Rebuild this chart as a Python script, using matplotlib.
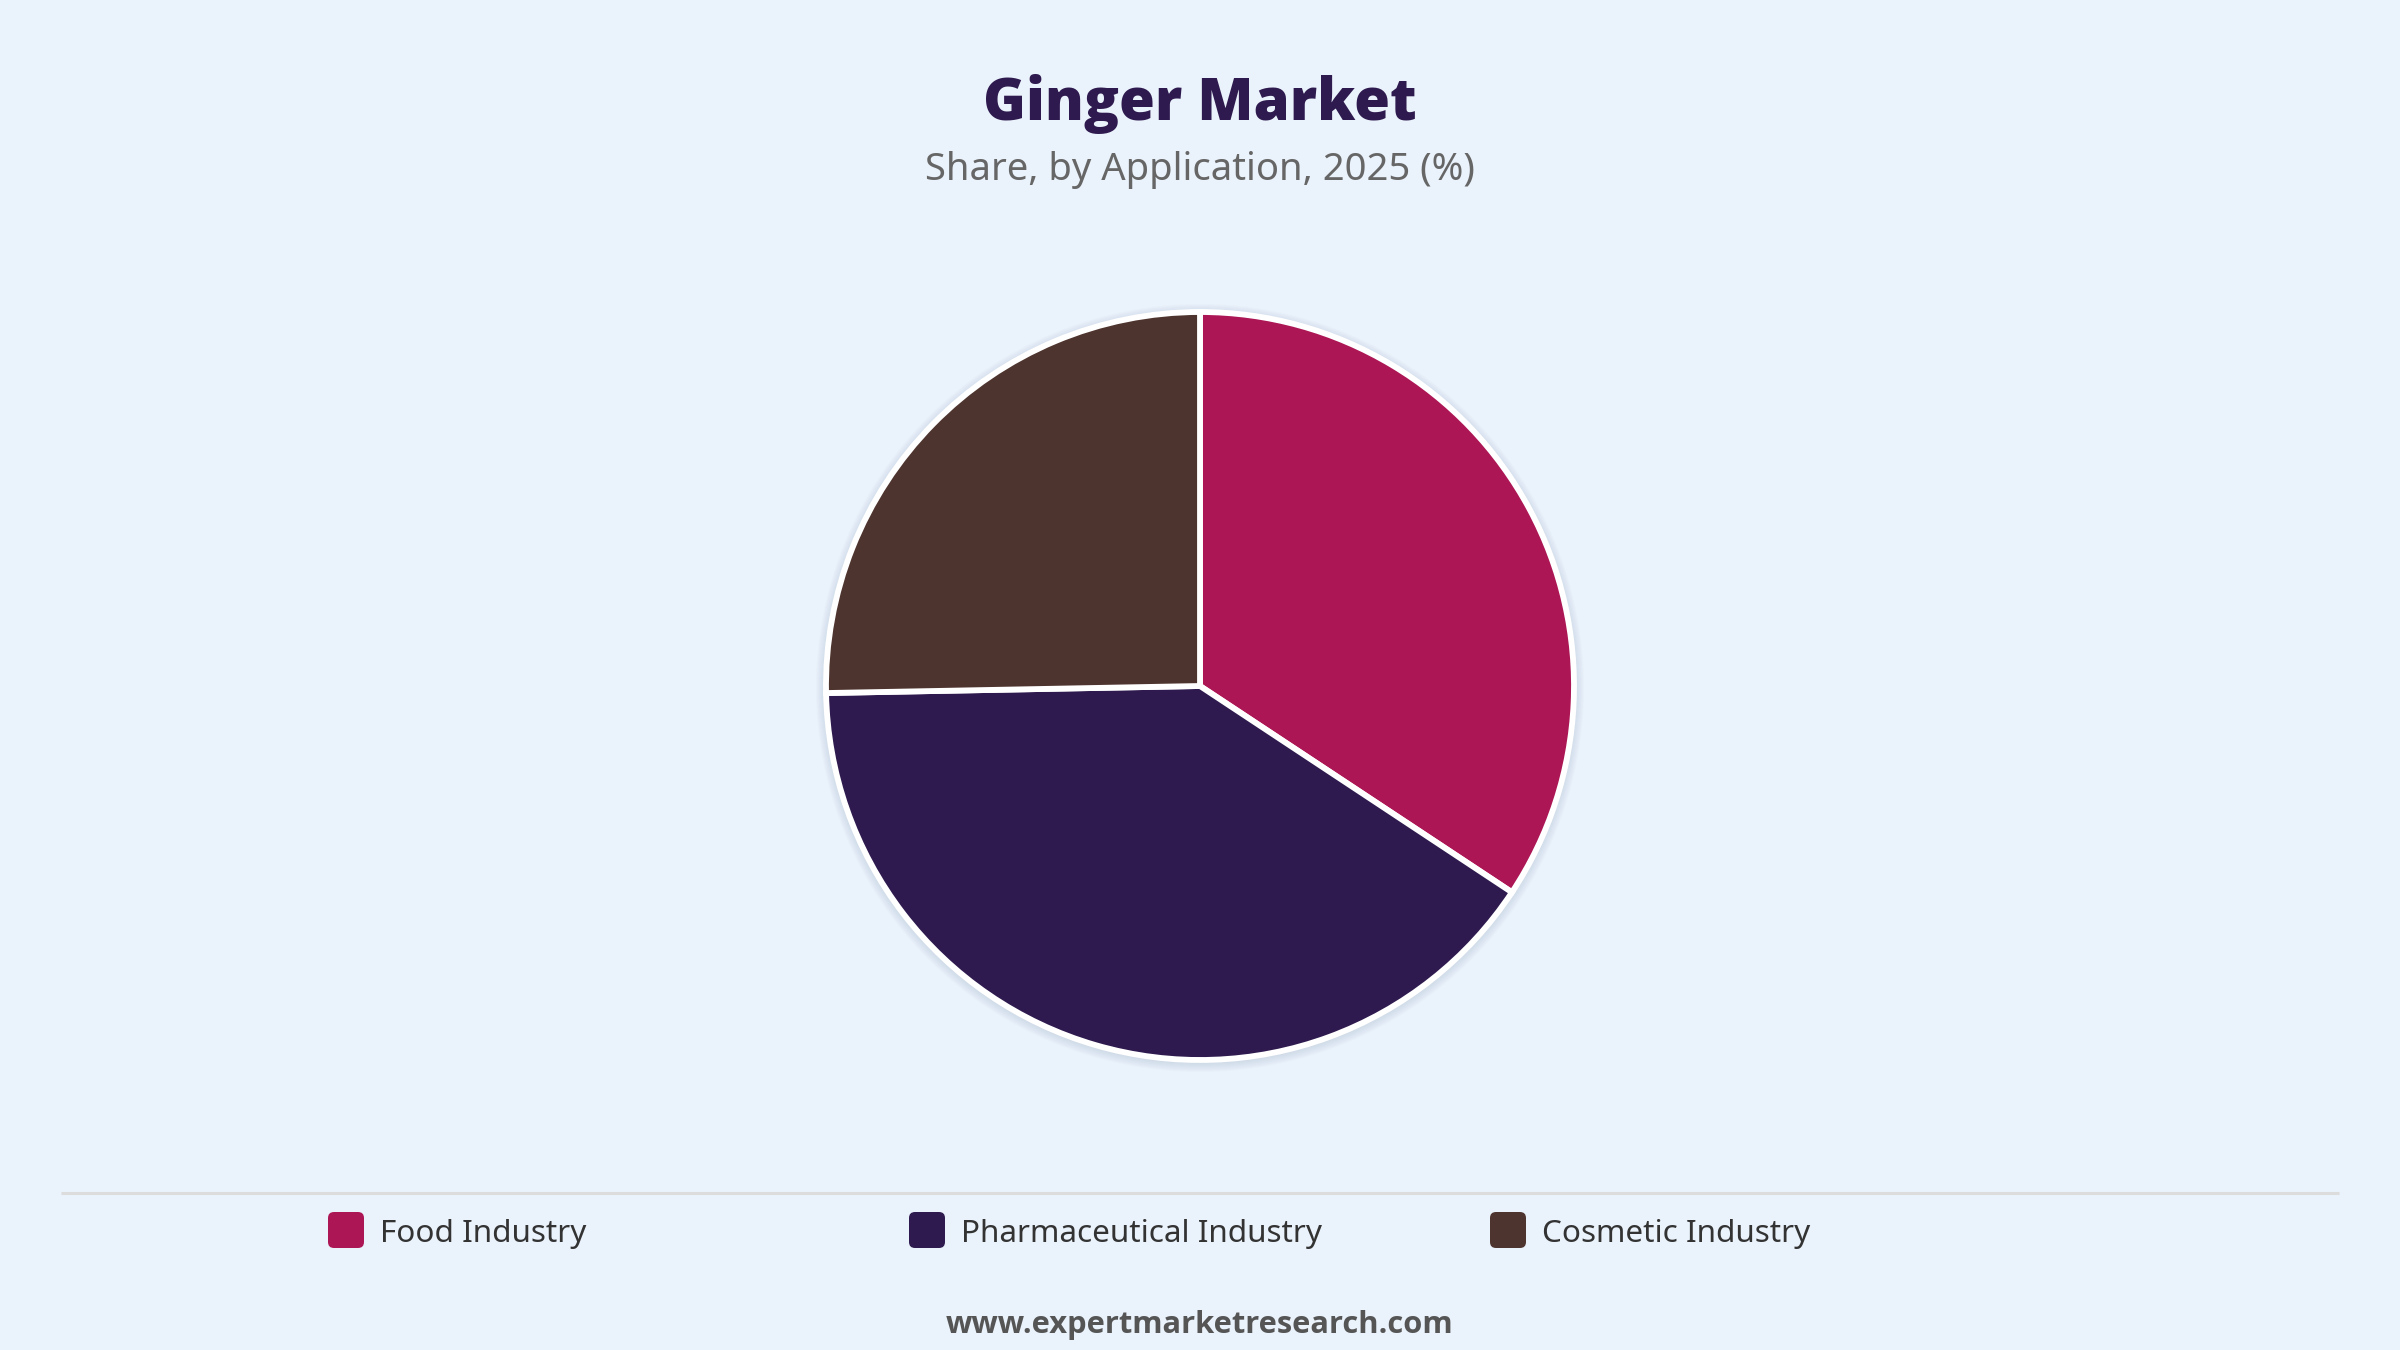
import matplotlib
matplotlib.use("Agg")
import matplotlib.pyplot as plt
from matplotlib.patches import Circle, FancyBboxPatch

categories = ["Food Industry", "Pharmaceutical Industry", "Cosmetic Industry"]
shares = [34.3, 40.4, 25.3]
colors = ["#AD1655", "#2E1A4E", "#4E342E"]
title = "Ginger Market"
subtitle = "Share, by Application, 2025 (%)"
footer = "www.expertmarketresearch.com"

W, H = 2400, 1350
bg = "#EAF2FB"
plt.rcParams['font.family'] = ['Noto Sans', 'DejaVu Sans']
bold_family = ['Open Sans', 'Roboto', 'DejaVu Sans']

fig = plt.figure(figsize=(24, 13.5), dpi=100, facecolor=bg)
ax = fig.add_axes([0, 0, 1, 1])
ax.set_facecolor(bg)

def Y(y):
    return H - y

cx, cy, r = 1200, Y(686), 374

# soft shadow
for i in range(10):
    ax.add_patch(Circle((cx, cy - 2), r + 1 + i, facecolor="#9FB0C8",
                        edgecolor="none", alpha=0.035, zorder=1))

ax.pie(shares, colors=colors, startangle=90, counterclock=False,
       center=(cx, cy), radius=r,
       wedgeprops=dict(edgecolor="white", linewidth=4.2, zorder=2))

ax.set_xlim(0, W)
ax.set_ylim(0, H)
ax.set_aspect('equal')
ax.axis('off')

ax.text(W / 2, Y(120), title, ha='center', va='baseline', fontsize=41.8,
        fontweight='heavy', family=bold_family, color="#2E1A4E")
ax.text(W / 2, Y(180), subtitle, ha='center', va='baseline', fontsize=27.5,
        color="#666666")

# separator line
ax.plot([61, 2339], [Y(1193), Y(1193)], color="#DCDCDC", lw=2.2,
        solid_capstyle='butt')

# legend
x0, step = 328, 581
for i, (lab, col) in enumerate(zip(categories, colors)):
    x = x0 + i * step
    ax.add_patch(FancyBboxPatch((x + 4, Y(1248) + 4), 28, 28,
                                boxstyle="round,pad=4,rounding_size=6",
                                facecolor=col, edgecolor='none'))
    ax.text(x + 52, Y(1234), lab, ha='left', va='center', fontsize=22.7,
            color="#333333")

ax.text(W / 2, Y(1333), footer, ha='center', va='baseline', fontsize=22.2,
        fontweight='bold', family=bold_family, color="#555555")

fig.savefig("out.png", dpi=100, facecolor=bg)
